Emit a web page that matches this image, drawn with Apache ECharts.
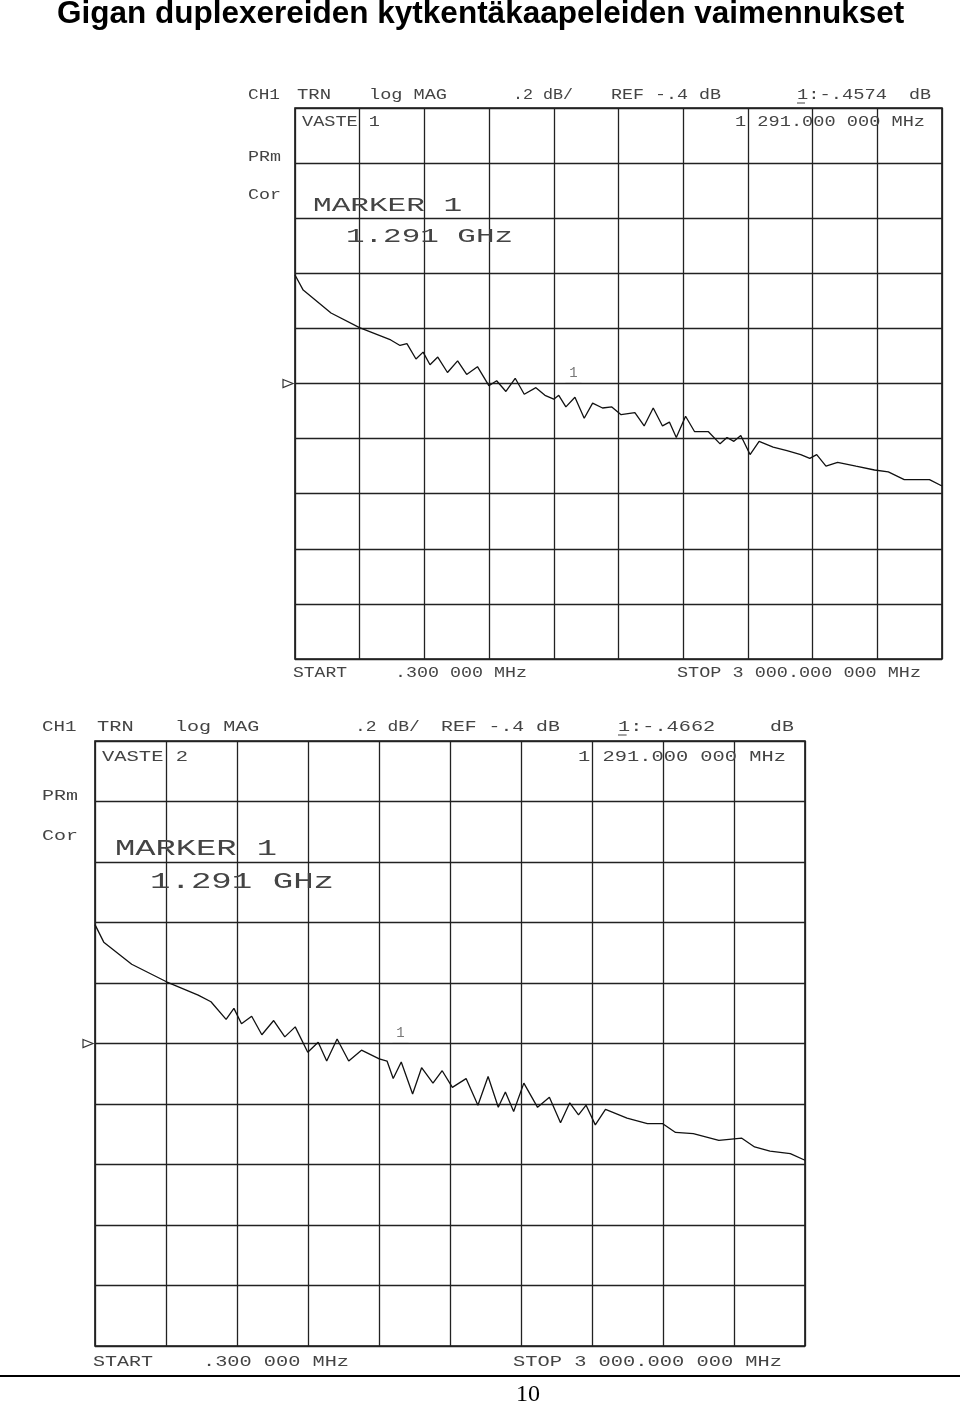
<!DOCTYPE html>
<html><head><meta charset="utf-8">
<script src="https://cdn.jsdelivr.net/npm/echarts@6/dist/echarts.min.js"></script>
<style>html,body{margin:0;padding:0;background:#fff}#c{width:960px;height:1405px}</style>
</head><body><div id="c"></div>
<script>
const freqTicks=[0,300,600,900,1200,1500,1800,2100,2400,2700,3000];
const trace1F=[0,38,167,299,444,487,519,561,594,626,662,707,754,796,846,899,935,978,1021,1063,1117,1159,1200,1223,1256,1298,1341,1380,1426,1469,1512,1576,1619,1661,1704,1736,1768,1811,1853,1917,1971,2003,2035,2067,2110,2152,2217,2281,2345,2387,2419,2462,2516,2601,2687,2751,2825,2900,2942,3000];
const trace1dB=[-0.006,-0.061,-0.144,-0.197,-0.242,-0.262,-0.255,-0.311,-0.286,-0.332,-0.304,-0.36,-0.318,-0.367,-0.339,-0.408,-0.39,-0.429,-0.381,-0.439,-0.415,-0.443,-0.457,-0.443,-0.485,-0.45,-0.526,-0.471,-0.489,-0.485,-0.513,-0.506,-0.554,-0.489,-0.554,-0.54,-0.596,-0.519,-0.575,-0.575,-0.619,-0.596,-0.61,-0.589,-0.658,-0.61,-0.631,-0.644,-0.658,-0.672,-0.658,-0.7,-0.686,-0.7,-0.714,-0.721,-0.749,-0.749,-0.749,-0.772];
const trace2F=[0,37,155,302,436,490,554,587,619,662,705,755,802,846,899,943,979,1023,1072,1126,1201,1234,1260,1294,1342,1380,1428,1467,1510,1568,1618,1661,1704,1734,1769,1812,1870,1920,1967,2006,2043,2075,2114,2157,2248,2334,2399,2453,2528,2636,2733,2787,2852,2938,3000];
const trace2dB=[-0.007,-0.065,-0.138,-0.196,-0.24,-0.262,-0.32,-0.284,-0.335,-0.31,-0.371,-0.324,-0.378,-0.345,-0.429,-0.396,-0.458,-0.385,-0.458,-0.422,-0.451,-0.458,-0.516,-0.461,-0.567,-0.48,-0.531,-0.49,-0.545,-0.516,-0.604,-0.509,-0.611,-0.56,-0.625,-0.531,-0.611,-0.578,-0.662,-0.596,-0.636,-0.604,-0.669,-0.618,-0.647,-0.665,-0.665,-0.694,-0.698,-0.72,-0.713,-0.742,-0.756,-0.764,-0.786];
const markerFreq=1291, refLevel=-0.4;

const chart=echarts.init(document.getElementById('c'),null,{renderer:'canvas'});
const grids=[{left:295,top:108,width:647,height:551},{left:95,top:741,width:710,height:605}];
const xAxis=grids.map((g,i)=>({gridIndex:i,type:'value',min:0,max:3000,interval:300,axisLabel:{show:false},axisTick:{show:false},axisLine:{show:false},splitLine:{lineStyle:{color:'#222',width:1.3}}}));
const yAxis=grids.map((g,i)=>({gridIndex:i,type:'value',min:-1.4,max:0.6,interval:0.2,axisLabel:{show:false},axisTick:{show:false},axisLine:{show:false},splitLine:{lineStyle:{color:'#222',width:1.3}}}));
function ser(i,F,D){return {type:'line',xAxisIndex:i,yAxisIndex:i,data:F.map((f,k)=>[f,D[k]]),symbol:'none',lineStyle:{color:'#111',width:1.3}};}
chart.setOption({animation:false,grid:grids.map(g=>Object.assign({show:true,borderColor:'#111',borderWidth:1.6},g)),xAxis,yAxis,series:[ser(0,trace1F,trace1dB),ser(1,trace2F,trace2dB)]});

const G=[];
function t(x,y,s,size,w,col,extra){const base=s.length*0.6*size;G.push({type:'text',x:x,y:y,scaleX:w?w/base:1,style:Object.assign({text:s,fontFamily:'Liberation Mono',fontSize:size,fill:col||'#444',textVerticalAlign:'middle'},extra||{})});}
G.push({type:'text',x:57,y:14,style:{text:'Gigan duplexereiden kytkentäkaapeleiden vaimennukset',font:'bold 31.5px Liberation Sans',fill:'#000',textVerticalAlign:'middle'}});
function header(p,y,val,k){
 t(p[0],y,'CH1',14,32*k);t(p[1],y,'TRN',14,34*k);t(p[2],y,'log MAG',14,78*k);t(p[3],y,'.2 dB/',14,60*k);t(p[4],y,'REF -.4 dB',14,110*k);
 t(p[5],y,'1:'+val,14,90*k);G.push({type:'line',shape:{x1:p[5],y1:y+8,x2:p[5]+8*k,y2:y+8},style:{stroke:'#444',lineWidth:1}});
 t(p[6],y,'dB',14,22*k);}
header([248,297,369,513,611,797,909],95,'-.4574',1);
header([42,97,175,355,441,618,770],727,'-.4662',1.08);
t(302,122,'VASTE 1',14,78);t(735,122,'1 291.000 000 MHz',14,190);
t(248,157,'PRm',14,33);t(248,195,'Cor',14,33);
t(313,205,'MARKER 1',21,149);t(346,236,'1.291 GHz',21,167);
t(293,673,'START',14,54);t(395,673,'.300 000 MHz',14,132);t(677,673,'STOP 3 000.000 000 MHz',14,244);
t(102,757,'VASTE 2',14,86);t(578,757,'1 291.000 000 MHz',14,208);
t(42,796,'PRm',14,36);t(42,836,'Cor',14,36);
t(115,849,'MARKER 1',22,162);t(150,882,'1.291 GHz',22,184);
t(93,1362,'START',14,60);t(203,1362,'.300 000 MHz',14,146);t(513,1362,'STOP 3 000.000 000 MHz',14,269);
G.push({type:'line',shape:{x1:0,y1:1376,x2:960,y2:1376},style:{stroke:'#000',lineWidth:2}});
G.push({type:'text',x:528,y:1395,style:{text:'10',font:'24px Liberation Serif',fill:'#000',textAlign:'center',textVerticalAlign:'middle'}});
[0,1].forEach(i=>{const p=chart.convertToPixel({gridIndex:i},[0,refLevel]);const x=p[0]-2,y=p[1];
 G.push({type:'polygon',shape:{points:[[x-10,y-4],[x,y],[x-10,y+4]]},style:{fill:'none',stroke:'#333',lineWidth:1.2}});
 const m=chart.convertToPixel({gridIndex:i},[markerFreq,refLevel]);
 G.push({type:'text',x:m[0],y:m[1]-10,style:{text:'1',fontFamily:'Liberation Mono',fontSize:14,fill:'#777',textAlign:'center',textVerticalAlign:'middle'}});
 G.push({type:'line',shape:{x1:m[0]-8,y1:m[1]-1,x2:m[0]+8,y2:m[1]-1},style:{stroke:'#bbb',lineWidth:1}});});
chart.setOption({graphic:G});
</script></body></html>
